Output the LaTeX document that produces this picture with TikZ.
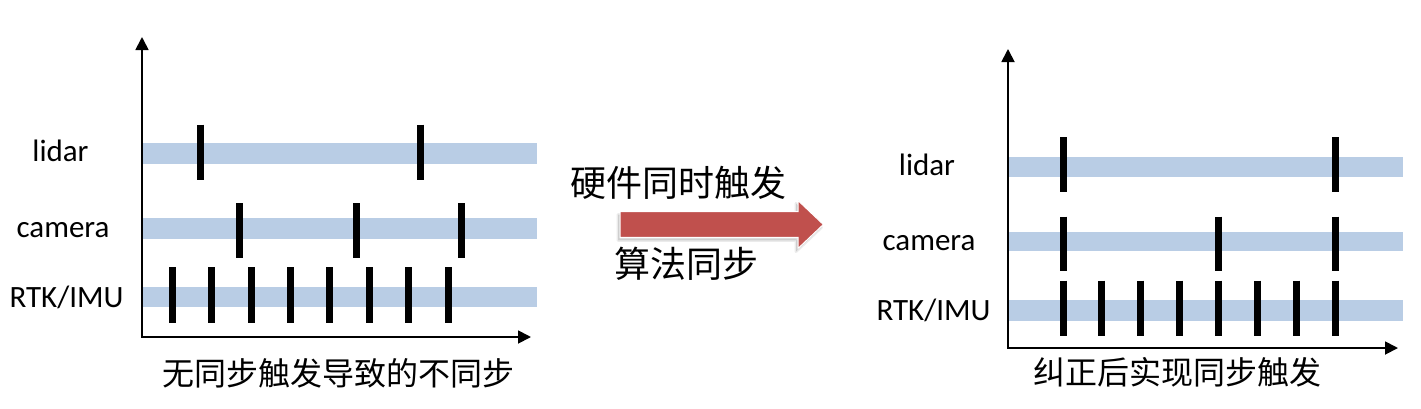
\documentclass[tikz,border=0pt]{standalone}
\usepackage{fontspec}
\setmainfont{Carlito}
\newfontfamily\cjk{Noto Sans CJK SC}
\usetikzlibrary{arrows.meta}
\definecolor{barblue}{HTML}{B9CDE5}
\definecolor{arrowred}{HTML}{C0504D}
\begin{document}
\begin{tikzpicture}[x=1pt,y=-1pt,
  bar/.style={fill=barblue,draw=none},
  tickmark/.style={line width=7pt,black},
  axisline/.style={line width=1.8pt,black,{Triangle[length=13pt,width=13pt]}-{Triangle[length=13pt,width=13pt]}},
  lab/.style={anchor=base,font=\fontsize{31}{36}\selectfont,inner sep=0pt},
  captext/.style={font=\cjk\fontsize{32}{38}\selectfont,inner sep=0pt},
  midtext/.style={font=\cjk\fontsize{36}{42}\selectfont,inner sep=0pt},
  blockarrow/.style={fill=arrowred,draw=white,line width=1pt,line join=miter},
  arrowshadow/.style={fill=black,opacity=0.12,draw=black,draw opacity=0.08,line width=3pt,line join=round},
]
\useasboundingbox[fill=white] (0,0) rectangle (1421,408);

% ---------- left panel ----------
\fill[bar] (143,143.3) rectangle (537,164.3);
\fill[bar] (143,218.3) rectangle (537,238.6);
\fill[bar] (143,287) rectangle (537,307.3);
\coordinate (LO) at (142,337);
\coordinate (LT) at (142,37);
\coordinate (LR) at (531,337);
\draw[axisline] (LT) -- (LO) -- (LR);

\foreach \x in {200,420}
  \draw[tickmark] (\x,124.7) -- (\x,180);
\foreach \x in {239.4,356.8,461.6}
  \draw[tickmark] (\x,203.3) -- (\x,257.7);
\foreach \k in {0,...,7}
  \draw[tickmark] ({172.3+39.4*\k},267.3) -- ({172.3+39.4*\k},322.7);

\node[lab] (llidar) at (60.5,161.7) {lidar};
\node[lab] (lcamera) at (63,237.3) {camera};
\node[lab] (lrtk) at (66.5,307.3) {RTK/IMU};
\node[captext] (lcap) at (338,373.3) {无同步触发导致的不同步};

% ---------- middle arrow ----------
\begin{scope}[shift={(-2,3)}]
  \path[arrowshadow] (620,211.7) -- (798,211.7) -- (798,200.5) -- (823.3,224.5)
     -- (798,248.5) -- (798,237.3) -- (620,237.3) -- cycle;
\end{scope}
\path[blockarrow] (620,211.7) -- (798,211.7) -- (798,200.5) -- (823.3,224.5)
     -- (798,248.5) -- (798,237.3) -- (620,237.3) -- cycle;
\node[midtext] (hw) at (678.3,183) {硬件同时触发};
\node[midtext] (algo) at (686.7,263.4) {算法同步};

% ---------- right panel ----------
\fill[bar] (1009,157) rectangle (1403,177);
\fill[bar] (1009,231.7) rectangle (1403,251.3);
\fill[bar] (1009,300) rectangle (1403,320.7);
\coordinate (RO) at (1008,348);
\coordinate (RT) at (1008,49);
\coordinate (RR) at (1398,348);
\draw[axisline] (RT) -- (RO) -- (RR);

\foreach \k in {0,7}
  \draw[tickmark] ({1063+38.94*\k},137.3) -- ({1063+38.94*\k},191.7);
\foreach \k in {0,4,7}
  \draw[tickmark] ({1063+38.94*\k},216.7) -- ({1063+38.94*\k},270.7);
\foreach \k in {0,...,7}
  \draw[tickmark] ({1063+38.94*\k},280.7) -- ({1063+38.94*\k},336);

\node[lab] (rlidar) at (927,175) {lidar};
\node[lab] (rcamera) at (929,250) {camera};
\node[lab] (rrtk) at (933.5,320) {RTK/IMU};
\node[captext] (rcap) at (1177.3,372.5) {纠正后实现同步触发};
\end{tikzpicture}
\end{document}
